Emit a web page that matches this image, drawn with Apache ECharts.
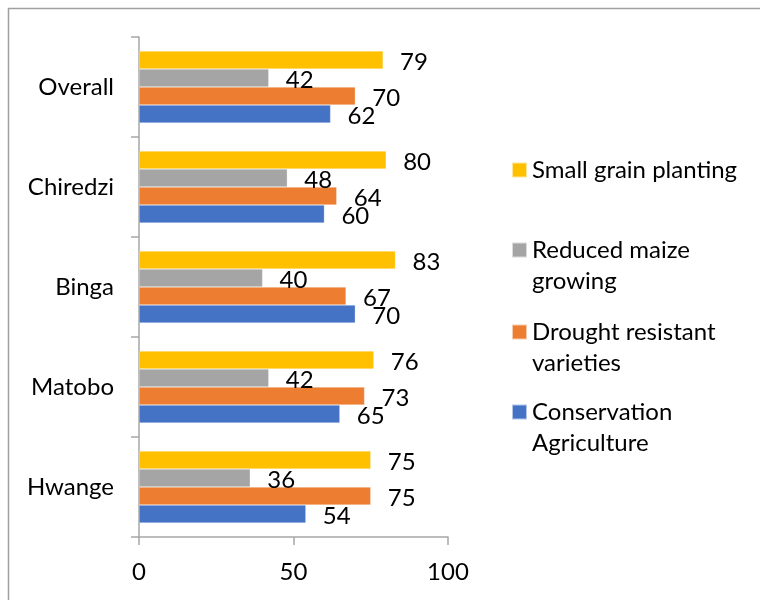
<!DOCTYPE html>
<html>
<head>
<meta charset="utf-8">
<script src="https://cdn.jsdelivr.net/npm/echarts@6/dist/echarts.min.js"></script>
<style>
  html, body { margin: 0; padding: 0; background: #fff; }
  #chart { width: 760px; height: 600px; }
</style>
</head>
<body>
<div id="chart"></div>
<script>
// categories, bottom to top
const sites = ['Hwange', 'Matobo', 'Binga', 'Chiredzi', 'Overall']

const conservationAgri = [54, 65, 70, 60, 62]
const droughtResistant = [75, 73, 67, 64, 70]
const reducedMaize = [36, 42, 40, 48, 42]
const smallGrain = [75, 76, 83, 80, 79]

const xTicks = [0, 50, 100]

const FONT = 'Lato'
const FS = 24
const chart = echarts.init(document.getElementById('chart'), null, { renderer: 'canvas' })

function barSeries(name, data, color) {
  return {
    type: 'bar',
    name: name,
    data: data,
    barWidth: 18,
    barGap: '0%',
    itemStyle: { color: color, borderColor: 'rgba(255,255,255,0.6)', borderWidth: 0.5 },
    label: {
      show: true,
      position: 'right',
      distance: 17,
      color: '#000',
      fontFamily: FONT,
      fontSize: FS,
      offset: [0, 2]
    }
  }
}

// one legend per entry; a blank first line keeps the marker level with the first text line
function legendItem(name, markerY, twoLines) {
  const lh = 31
  const lines = twoLines ? 3 : 1
  return {
    data: [name],
    left: 511,
    top: markerY - lines * lh / 2,
    padding: 0,
    orient: 'vertical',
    icon: 'rect',
    itemWidth: 15,
    itemHeight: 15,
    selectedMode: false,
    formatter: function (n) {
      if (!twoLines) return n
      const i = n.lastIndexOf(' ')
      return ' \n' + n.slice(0, i) + '\n' + n.slice(i + 1)
    },
    textStyle: {
      fontFamily: FONT,
      fontSize: FS,
      color: '#000',
      lineHeight: lh
    }
  }
}

const option = {
  animation: false,
  backgroundColor: '#fff',
  grid: { left: 139, top: 37, width: 309, height: 500, containLabel: false },
  xAxis: {
    type: 'value',
    min: xTicks[0],
    max: xTicks[xTicks.length - 1],
    interval: 50,
    axisLine: { show: true, lineStyle: { color: '#a6a6a6', width: 1.5 } },
    axisTick: { show: true, length: 8, lineStyle: { color: '#a6a6a6', width: 1.5 } },
    splitLine: { show: false },
    axisLabel: { color: '#000', fontFamily: FONT, fontSize: FS, margin: 23 }
  },
  yAxis: {
    type: 'category',
    data: sites,
    axisLine: { show: true, lineStyle: { color: '#a6a6a6', width: 1.5 } },
    axisTick: { show: true, length: 8, lineStyle: { color: '#a6a6a6', width: 1.5 } },
    axisLabel: { color: '#000', fontFamily: FONT, fontSize: FS, margin: 25, padding: [4, 0, 0, 0] }
  },
  legend: [
    legendItem('Small grain planting', 170, false),
    legendItem('Reduced maize growing', 250, true),
    legendItem('Drought resistant varieties', 332, true),
    legendItem('Conservation Agriculture', 412, true)
  ],
  graphic: [{
    type: 'rect',
    shape: { x: 8.5, y: 8.5, width: 800, height: 700 },
    style: { fill: 'none', stroke: '#a0a0a0', lineWidth: 1.5 },
    silent: true
  }],
  // first series is drawn at the top of each group
  series: [
    barSeries('Small grain planting', smallGrain, '#ffc000'),
    barSeries('Reduced maize growing', reducedMaize, '#a5a5a5'),
    barSeries('Drought resistant varieties', droughtResistant, '#ed7d31'),
    barSeries('Conservation Agriculture', conservationAgri, '#4472c4')
  ]
}

chart.setOption(option)
</script>
</body>
</html>
